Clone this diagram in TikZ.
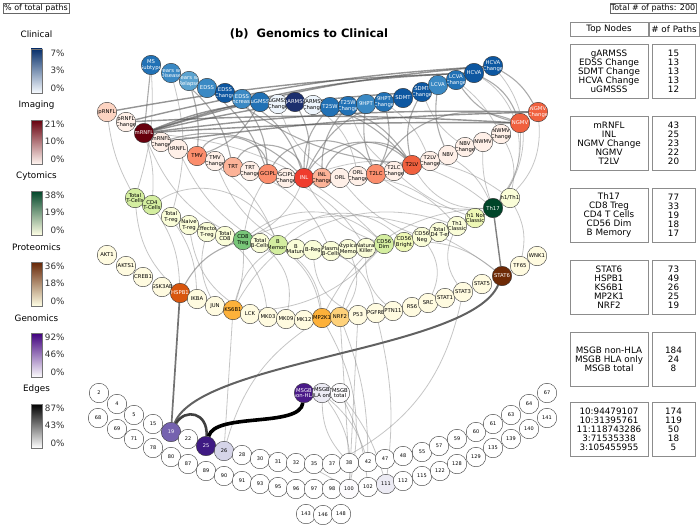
\documentclass[tikz,border=0pt]{standalone}
\usepackage{fontspec}
\setmainfont{DejaVu Sans}
\pgfdeclarelayer{background}
\pgfsetlayers{background,main}

% colours of the node groups
\definecolor{clinA}{HTML}{1C2F6E}
\definecolor{clinB}{HTML}{0D57A1}
\definecolor{clinC}{HTML}{2171B5}
\definecolor{clinD}{HTML}{3A89C4}
\definecolor{clinE}{HTML}{5AA2CF}
\definecolor{clinF}{HTML}{EEF5FC}
\definecolor{imgA}{HTML}{67000D}
\definecolor{imgB}{HTML}{EF3C2D}
\definecolor{imgC}{HTML}{F0603E}
\definecolor{imgD}{HTML}{FB8D6C}
\definecolor{imgE}{HTML}{FCB398}
\definecolor{imgF}{HTML}{FDD4C2}
\definecolor{imgG}{HTML}{FFF0E8}
\definecolor{cytA}{HTML}{004529}
\definecolor{cytB}{HTML}{78C679}
\definecolor{cytC}{HTML}{D4EEA0}
\definecolor{cytD}{HTML}{EEF8B5}
\definecolor{cytE}{HTML}{FAFDD8}
\definecolor{proA}{HTML}{6E2A06}
\definecolor{proB}{HTML}{D8560E}
\definecolor{proC}{HTML}{FDB13A}
\definecolor{proD}{HTML}{FED17A}
\definecolor{proE}{HTML}{FFFBE0}
\definecolor{genA}{HTML}{3F1A83}
\definecolor{genB}{HTML}{4A1A89}
\definecolor{genC}{HTML}{7562AF}
\definecolor{genD}{HTML}{D5D4E8}
\definecolor{genE}{HTML}{ECEBF4}
\definecolor{genF}{HTML}{FCFBFD}

\newcommand{\nodetext}[2]{\node[font=\fontsize{5.3}{5.7}\selectfont,align=center,text=#1,inner sep=0pt] at (path picture bounding box.center) {#2};}

\tikzset{
  nd/.style={circle,draw=black!80,line width=0.4pt,minimum size=19.5pt,inner sep=0pt},
  snp/.style={nd,font=\fontsize{5}{5}\selectfont},
  eL/.style={draw=black!45,opacity=.5,line width=.8pt},
  eM/.style={draw=black!55,opacity=.6,line width=1.1pt},
  eD/.style={draw=black!70,opacity=.6,line width=1.4pt},
  legtitle/.style={font=\fontsize{8.8}{9}\selectfont},
  legnum/.style={font=\fontsize{8.8}{9}\selectfont,anchor=east,text=black!80},
  tbox/.style={draw=black!45,line width=.8pt,align=center,inner sep=0pt,
    minimum height=54pt,font=\fontsize{8.8}{9}\selectfont},
}

\begin{document}
\begin{tikzpicture}[x=1pt,y=-1pt]
\useasboundingbox (0,0) rectangle (700,527);

% legend
\node[draw=black!60,font=\fontsize{8}{8}\selectfont,inner sep=1pt] (pct) at (36,8) {\% of total paths};
\foreach \k/\ttl/\ctop/\cmid/\cbot/\hi/\md in {
  0/Clinical/08306B/6BAED6/F7FBFF/7/3,
  1/Imaging/67000D/FB6A4A/FFF5F0/21/10,
  2/Cytomics/004529/78C679/FFFFE5/38/19,
  3/Proteomics/662506/FE9929/FFFFE5/36/18,
  4/Genomics/3F007D/9E9AC8/FCFBFD/92/46,
  5/Edges/000000/969696/FFFFFF/87/43}
{
  \definecolor{bartop}{HTML}{\ctop}
  \definecolor{barmid}{HTML}{\cmid}
  \definecolor{barbot}{HTML}{\cbot}
  \node[legtitle] (leg\k) at (36.5,34+71*\k) {\ttl};
  \shade[top color=bartop,middle color=barmid,bottom color=barbot] (31,49+71*\k) rectangle (42,93+71*\k);
  \draw[black!55,line width=.6pt] (31,49+71*\k) rectangle (42,93+71*\k);
  \node[legnum] (hi\k) at (68,53+71*\k) {\hi\%};
  \node[legnum] (md\k) at (68,70.5+71*\k) {\md\%};
  \node[legnum] (lo\k) at (68,88+71*\k) {0\%};
}

% title
\node[font=\fontsize{11.5}{12}\selectfont\bfseries] (title) at (309,34) {(b)\ \ Genomics to Clinical};

% clinical
\foreach \nm/\x/\y/\fc/\tc/\txt in {
  c1/151/65/clinC/white/{MS\\Subtype},
  c2/171/73/clinD/white/{Years w/\\Disease},
  c3/189/81/clinE/white/{Years w/\\Relapse},
  c4/207/88/clinD/white/{EDSS},
  c5/225/93/clinB/white/{EDSS\\Change},
  c6/242/99/clinD/white/{EDSS\\Increase},
  c7/260/102/clinC/white/{uGMSS},
  c8/278/104/clinF/black/{uGMSS\\Change},
  c9/295/102/clinA/white/{gARMSS},
  c10/313/105/clinF/black/{gARMSS\\Change},
  c11/330/107/clinC/white/{T25W},
  c12/348/106/clinC/white/{T25W\\Change},
  c13/366/104/clinD/white/{9HPT},
  c14/384/102/clinC/white/{9HPT\\Change},
  c15/403/98/clinB/white/{SDMT},
  c16/422/92/clinB/white/{SDMT\\Change},
  c17/438/85/clinD/white/{LCVA},
  c18/456/80/clinC/white/{LCVA\\Change},
  c19/474/73/clinB/white/{HCVA},
  c20/493/66/clinB/white/{HCVA\\Change}}
  \node[nd,fill=\fc,path picture={\nodetext{\tc}{\txt}}] (\nm) at (\x,\y) {};

% imaging
\foreach \nm/\x/\y/\fc/\tc/\txt in {
  m1/107/112/imgF/black/{pRNFL},
  m2/126/122/imgG/black/{pRNFL\\Change},
  m3/144/133/imgA/white/{mRNFL},
  m4/161/142/imgG/black/{mRNFL\\Change},
  m5/178/149/imgG/black/{tRNFL},
  m6/197/156/imgD/black/{TMV},
  m7/215/161/imgG/black/{TMV\\Change},
  m8/233/167/imgE/black/{TRT},
  m9/250/171/imgG/black/{TRT\\Change},
  m10/268/174/imgD/black/{GCIPL},
  m11/286/178/imgG/black/{GCIPL\\Change},
  m12/304/178/imgB/white/{INL},
  m13/322/178/imgE/black/{INL\\Change},
  m14/340/178/imgG/black/{ORL},
  m15/358/176/imgG/black/{ORL\\Change},
  m16/376/174/imgD/black/{T2LC},
  m17/394/171/imgG/black/{T2LC\\Change},
  m18/412/165/imgC/black/{T2LV},
  m19/430/161/imgG/black/{T2LV\\Change},
  m20/448/155/imgG/black/{NBV},
  m21/465/147/imgG/black/{NBV\\Change},
  m22/483/142/imgG/black/{NWMV},
  m23/501/134/imgG/black/{NWMV\\Change},
  m24/520/123/imgC/white/{NGMV},
  m25/538/112/imgC/white/{NGMV\\Change}}
  \node[nd,fill=\fc,path picture={\nodetext{\tc}{\txt}}] (\nm) at (\x,\y) {};

% cytomics
\foreach \nm/\x/\y/\fc/\tc/\txt in {
  t1/135/198/cytC/black/{Total\\T-Cells},
  t2/152/205/cytC/black/{CD4\\T-Cells},
  t3/171/217/cytE/black/{Total\\T-reg},
  t4/189/225/cytE/black/{Naive\\T-reg},
  t5/207/232/cytE/black/{Effector\\T-reg},
  t6/225/236/cytE/black/{Total\\CD8},
  t7/243/240/cytB/black/{CD8\\Treg},
  t8/260/243/cytE/black/{Total\\B-Cells},
  t9/278/245/cytC/black/{B\\Memory},
  t10/296/249/cytE/black/{B\\Mature},
  t11/313/250/cytE/black/{B-Reg},
  t12/331/251/cytE/black/{Plasma\\B-Cells},
  t13/348/249/cytE/black/{Atypical\\B Memory},
  t14/366/248/cytE/black/{Natural\\Killer},
  t15/384/244/cytC/black/{CD56\\Dim},
  t16/404/242/cytD/black/{CD56\\Bright},
  t17/422/237/cytE/black/{CD56\\Neg},
  t18/439/232/cytE/black/{Total\\CD4 T-eff},
  t19/457/226/cytE/black/{Th1\\Classic},
  t20/475/218/cytD/black/{Th1 Non\\Classic},
  t21/493/208/cytA/white/{Th17},
  t22/510/198/cytE/black/{Th1/Th17}}
  \node[nd,fill=\fc,path picture={\nodetext{\tc}{\txt}}] (\nm) at (\x,\y) {};

% proteomics
\foreach \nm/\x/\y/\fc/\tc/\txt in {
  p1/107/255/proE/black/{AKT1},
  p2/126/266/proE/black/{AKTS1},
  p3/143/277/proE/black/{CREB1},
  p4/162/287/proE/black/{GSK3AB},
  p5/180/293/proB/white/{HSPB1},
  p6/197/299/proE/black/{IKBA},
  p7/215/306/proE/black/{JUN},
  p8/233/310/proC/black/{KS6B1},
  p9/250/314/proE/black/{LCK},
  p10/268/317/proE/black/{MK03},
  p11/286/319/proE/black/{MK09},
  p12/304/320/proE/black/{MK12},
  p13/322/318/proC/black/{MP2K1},
  p14/340/317/proD/black/{NRF2},
  p15/358/315/proE/black/{P53},
  p16/376/313/proE/black/{PGFRB},
  p17/393/311/proE/black/{PTN11},
  p18/412/307/proE/black/{RS6},
  p19/428/303/proE/black/{SRC},
  p20/445/298/proE/black/{STAT1},
  p21/463/292/proE/black/{STAT3},
  p22/482/284/proE/black/{STAT5},
  p23/502/276/proA/white/{STAT6},
  p24/520/266/proE/black/{TF65},
  p25/537/256/proE/black/{WNK1}}
  \node[nd,fill=\fc,path picture={\nodetext{\tc}{\txt}}] (\nm) at (\x,\y) {};

% genomics
\foreach \nm/\x/\y/\fc/\tc/\txt in {
  g1/304/393/genB/white/{MSGB\\non-HLA},
  g2/322/393/genE/black/{MSGB\\HLA only},
  g3/340/393/genF/black/{MSGB\\total}}
  \node[nd,fill=\fc,path picture={\nodetext{\tc}{\txt}}] (\nm) at (\x,\y) {};

% snps
\foreach \nm/\x/\y/\fc/\tc in {
  2/99/393/white/black, 4/117/404/white/black, 5/134/415/white/black,
  15/153/424/white/black, 19/171/432/genC/white, 22/188/439/white/black,
  25/206/446/genA/white, 26/224/451/genD/black, 28/242/455/white/black,
  30/260/459/white/black, 31/278/462/white/black, 32/296/463/white/black,
  35/314/464/white/black, 37/332/464/white/black, 38/349/463/white/black,
  42/368/462/white/black, 47/385/459/white/black, 48/403/456/white/black,
  55/422/452/white/black, 57/439/446/white/black, 59/457/439/white/black,
  60/476/432/white/black, 61/493/424/white/black, 63/511/415/white/black,
  64/529/404/white/black, 67/547/393/white/black,
  68/98/418/white/black, 69/117/429/white/black, 71/134/439/white/black,
  78/153/448/white/black, 80/171/457/white/black, 87/188/464/white/black,
  89/206/471/white/black, 90/224/476/white/black, 91/242/481/white/black,
  93/260/484/white/black, 95/278/487/white/black, 96/296/489/white/black,
  97/314/489/white/black, 98/332/489/white/black, 100/349/489/genF/black,
  102/368/487/white/black, 111/386/484/genE/black, 112/403/481/white/black,
  115/422/476/white/black, 122/440/471/white/black, 128/457/464/white/black,
  129/476/457/white/black, 135/493/448/white/black, 139/511/439/white/black,
  140/529/429/white/black, 141/547/418/white/black,
  143/306/514/white/black, 146/323/515/white/black, 148/341/514/white/black}
  \node[snp,fill=\fc,text=\tc] (s\nm) at (\x,\y) {\nm};

% connectors
\begin{pgfonlayer}{background}
  % clinical and imaging
  \foreach \a/\b/\bd in {m3/c20/6,m3/c19/8,m3/m25/4,m3/c16/5,m3/m24/2,
    m2/c20/5,m1/c19/4,m3/c9/10,m4/m25/3,m2/m24/3}
    \draw[eD] (\a) to[bend left=\bd] (\b);
  \foreach \a/\b/\bd in {c5/m12/25,c15/m12/-25,c9/m18/20,c4/m10/15,c7/m6/20,
    c11/m12/-20,c13/m16/-15,c19/m24/20,c20/m25/15,c16/m18/-20,c17/m20/-15,
    c1/m3/0,c2/m8/20,c3/m6/10,c6/m10/15,c12/m13/-20,c14/m16/20,c18/m24/-20,
    c10/m18/25,c5/m18/-15,c9/m12/20,
    m6/m10/70,m8/m12/70,m10/m16/60,m12/m18/50,m16/m24/40,m13/m18/60,m4/m12/30}
    \draw[eM] (\a) to[bend left=\bd] (\b);
  \foreach \a/\b/\bd in {c8/m14/-20,c10/m15/20,c12/m17/-15,c14/m19/15,
    c16/m21/-15,c18/m23/10,c1/t1/10,c2/t3/15}
    \draw[eL] (\a) to[bend left=\bd] (\b);
  % imaging, cytomics and proteomics
  \foreach \a/\b/\bd in {m3/t7/-20,m12/t7/20,m24/t21/20,m18/t21/-30,m25/t21/30,
    m3/t2/10,m12/t15/-20,m6/t9/20,m16/t21/-20,c20/t21/40,c19/t21/50,m1/t1/-10,
    m10/t7/-10,m12/t21/30,m3/t15/20,
    m5/t8/-15,m7/t10/-20,m9/t12/20,m11/t14/15,m14/t17/-15,m15/t19/20,
    m17/t20/-10,m19/t22/10,m20/t21/15,m22/t21/-10,m23/t22/20,
    t7/t15/40,t2/t9/50,t9/t16/45,
    t7/p8/10,t9/p13/20,t15/p14/-15,t2/p5/15,t1/p5/-20,t7/p13/40,t21/p13/-30,
    t16/p23/20,t7/p23/30,t9/p8/-20,t13/p14/30,
    t4/p9/-25,t6/p10/20,t8/p11/30,t11/p15/-30,t12/p16/25,t14/p17/-25,
    t17/p19/30,t19/p21/-30,t22/p24/20,t3/p6/15,t5/p7/-20,p5/t15/-35,p8/t19/40,
    p8/s26/0,p13/s26/-20,p14/s38/0,p14/s42/10,p15/s100/0,p16/s111/10,
    p13/s100/20,p21/s37/25,g2/s100/20,g2/s42/15,g3/s102/10,g3/s111/10,
    s26/s100/15,g2/s38/-20}
    \draw[eL] (\a) to[bend left=\bd] (\b);
  \draw[eM] (t7) to[bend left=-20] (p5);
  \draw[black!50,line width=1.4pt] (t21) -- (p23);
  \draw[black!55,line width=1.7pt] (s19) -- (p5);
  \draw[black!62,line width=2pt] (s19) .. controls (200,360) and (470,350) .. (p23);
  \draw[black!75,line width=2.6pt] (s19) .. controls (185,408) and (208,412) .. (s25);
  \draw[black,line width=3.6pt] (g1) .. controls (300,428) and (215,412) .. (s25);
\end{pgfonlayer}

% tables
\node[draw=black!60,font=\fontsize{8}{8}\selectfont,inner sep=1pt] (total) at (653,8) {Total \# of paths: 200};
\node[tbox,minimum width=78pt,minimum height=14pt] (tophead) at (609,29) {Top Nodes};
\node[tbox,minimum width=50pt,minimum height=14pt] (numhead) at (674,29) {\# of Paths};
\foreach \k/\ty/\names/\nums in {
  1/71/{gARMSS\\EDSS Change\\SDMT Change\\HCVA Change\\uGMSSS}/{15\\13\\13\\13\\12},
  2/143/{mRNFL\\INL\\NGMV Change\\NGMV\\T2LV}/{43\\25\\23\\22\\20},
  3/215/{Th17\\CD8 Treg\\CD4 T Cells\\CD56 Dim\\B Memory}/{77\\33\\19\\18\\17},
  4/287/{STAT6\\HSPB1\\KS6B1\\MP2K1\\NRF2}/{73\\49\\26\\25\\19},
  5/359/{MSGB non-HLA\\MSGB HLA only\\MSGB total}/{184\\24\\8},
  6/429/{10:94479107\\10:31395761\\11:118743286\\3:71535338\\3:105455955}/{174\\119\\50\\18\\5}}
{
  \node[tbox,minimum width=78pt] (top\k) at (609,\ty) {\names};
  \node[tbox,minimum width=43pt] (num\k) at (673.5,\ty) {\nums};
}
\end{tikzpicture}
\end{document}
